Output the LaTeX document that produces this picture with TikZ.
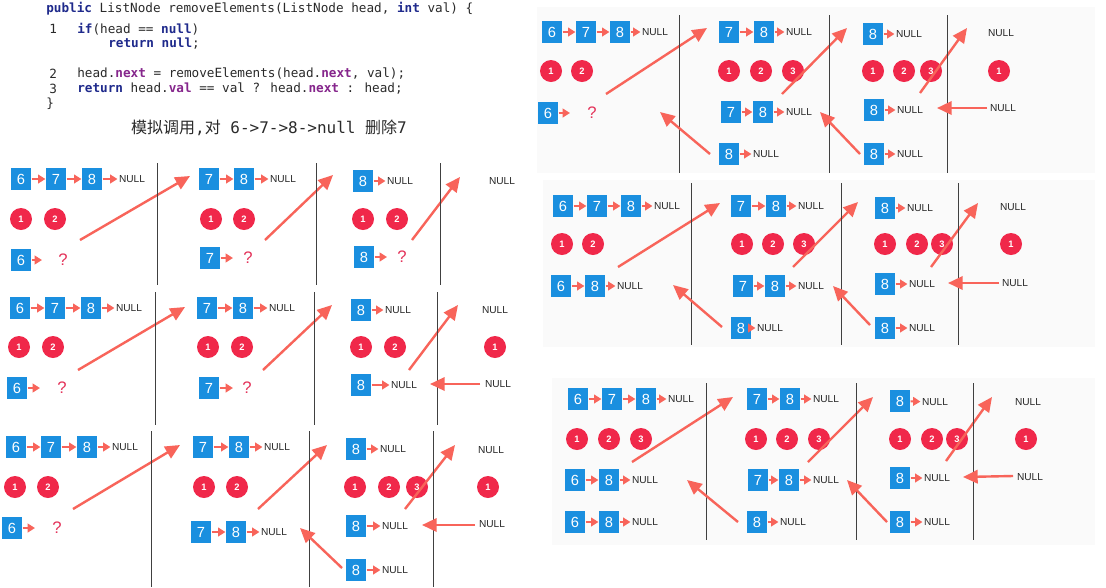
\documentclass[tikz,border=0pt]{standalone}
\usepackage{fontspec}
\setmainfont{Liberation Sans}
\newfontfamily\codefont{DejaVu Sans Mono}
\newfontfamily\cjk{Noto Sans CJK SC}
\usetikzlibrary{arrows.meta}
\definecolor{sqblue}{HTML}{1A8FDF}
\definecolor{cred}{HTML}{F0284A}
\definecolor{arr}{HTML}{F8645A}
\definecolor{qred}{HTML}{E4335A}
\definecolor{kw}{HTML}{1F2A8C}
\definecolor{fld}{HTML}{86268C}
\definecolor{ct}{HTML}{2A2A2A}
\definecolor{pbg}{HTML}{FAFAFA}
\newcommand\kwb[1]{{\bfseries\color{kw}#1}}
\newcommand\fdb[1]{{\bfseries\color{fld}#1}}
\newcommand\mySq[4]{\node[bsq] (#1) at (#2,#3) {#4};}
\newcommand\myCi[4]{\node[rc] (#1) at (#2,#3) {#4};}
\newcommand\myNu[3]{\node[nul] (#1) at (#2,#3) {NULL};}
\newcommand\myQ[3]{\node[qm] (#1) at (#2,#3) {?};}
\newcommand\myAr[2]{\draw[sarr] (#1) -- (#2);}
\newcommand\myBA[6]{\coordinate (#1) at (#2,#3); \coordinate (#4) at (#5,#6); \draw[barr] (#1) -- (#4);}
\newcommand\myDv[4]{\coordinate (#1t) at (#2,#3); \coordinate (#1b) at (#2,#4); \draw[divl] (#1t) -- (#1b);}
\tikzset{
 bsq/.style={fill=sqblue, text=white, minimum width=15.5pt, minimum height=16.5pt, inner sep=0pt, font=\fontsize{11}{12}\selectfont},
 rc/.style={circle, fill=cred, text=white, minimum size=16.5pt, inner sep=0pt, font=\fontsize{7}{8}\selectfont\bfseries},
 nul/.style={inner sep=1pt, text=black!85, font=\fontsize{7.6}{8}\selectfont},
 qm/.style={inner sep=0pt, text=qred, font=\fontsize{12.5}{13}\selectfont},
 sarr/.style={draw=arr, line width=1.6pt, -{Triangle[length=5.5pt,width=6.5pt]}},
 barr/.style={draw=arr, line width=1.8pt, -{Triangle[length=11pt,width=10pt]}},
 divl/.style={draw=black!75, line width=0.7pt},
 code/.style={anchor=west, inner sep=0pt, text=ct, font=\codefont\fontsize{9.5}{11}\selectfont},
}
\begin{document}
\begin{tikzpicture}[x=0.75pt,y=-0.75pt]
\useasboundingbox (0,0) rectangle (1106,587);
\fill[white] (0,0) rectangle (1106,587);
% right panel backgrounds
\fill[pbg] (537,7) rectangle (1095,173);
\fill[pbg] (543,180) rectangle (1095,347);
\fill[pbg] (552,378) rectangle (1095,545);

% ---------- code ----------
\node[code] (c0) at (46,9) {\kwb{public} ListNode removeElements(ListNode head, \kwb{int} val) \{};
\node[code] (n1) at (49,29) {1};
\node[code] (c1) at (77,29) {\kwb{if}(head == \kwb{null})};
\node[code] (c1b) at (108,44) {\kwb{return} \kwb{null};};
\node[code] (n2) at (49,74) {2};
\node[code] (c2) at (77,74) {head.\fdb{next} = removeElements(head.\fdb{next}, val);};
\node[code] (n3) at (49,89) {3};
\node[code] (c3) at (77,89) {\kwb{return} head.\fdb{val} == val ? head.\fdb{next} : head;};
\node[code] (c4) at (46,104) {\}};
\node[inner sep=0pt, text=ct, font=\fontsize{12}{14}\selectfont] (cap) at (269,128)
 {{\cjk 模拟调用}{\codefont ,}{\cjk 对}{\codefont\ 6->7->8->null\ }{\cjk 删除}{\codefont 7}};

% ================= Row A =================
\mySq{A1a}{21}{179}{6}\mySq{A1b}{56}{179}{7}\mySq{A1c}{92}{179}{8}\myNu{A1n}{132}{179}
\myAr{A1a}{A1b}\myAr{A1b}{A1c}\myAr{A1c}{A1n}
\myCi{A1o}{21}{219}{1}\myCi{A1p}{55}{219}{2}
\mySq{A1d}{21}{260}{6}\coordinate (A1e) at (42,260);\myQ{A1q}{63}{260}
\myAr{A1d}{A1e}
\myBA{A1f}{80}{240}{A1t}{190}{176}
\myDv{AD1}{157}{163}{285}
\mySq{A2a}{209}{179}{7}\mySq{A2b}{244}{179}{8}\myNu{A2n}{283}{179}
\myAr{A2a}{A2b}\myAr{A2b}{A2n}
\myCi{A2o}{211}{219}{1}\myCi{A2p}{244}{219}{2}
\mySq{A2d}{210}{258}{7}\coordinate (A2e) at (233,258);\myQ{A2q}{248}{258}
\myAr{A2d}{A2e}
\myBA{A2f}{265}{240}{A2t}{333}{175}
\myDv{AD2}{316}{163}{285}
\mySq{A3a}{363}{181}{8}\myNu{A3n}{400}{181}
\myAr{A3a}{A3n}
\myCi{A3o}{363}{219}{1}\myCi{A3p}{397}{219}{2}
\mySq{A3d}{364}{257}{8}\coordinate (A3e) at (387,257);\myQ{A3q}{402}{257}
\myAr{A3d}{A3e}
\myBA{A3f}{412}{240}{A3t}{460}{177}
\myDv{AD3}{440}{163}{285}
\myNu{A4n}{502}{181}

% ================= Row B =================
\mySq{B1a}{20}{308}{6}\mySq{B1b}{55}{308}{7}\mySq{B1c}{91}{308}{8}\myNu{B1n}{129}{308}
\myAr{B1a}{B1b}\myAr{B1b}{B1c}\myAr{B1c}{B1n}
\myCi{B1o}{19}{347}{1}\myCi{B1p}{53}{347}{2}
\mySq{B1d}{17}{388}{6}\coordinate (B1e) at (40,388);\myQ{B1q}{62}{388}
\myAr{B1d}{B1e}
\myBA{B1f}{78}{370}{B1t}{185}{307}
\myDv{BD1}{155}{292}{425}
\mySq{B2a}{207}{308}{7}\mySq{B2b}{243}{308}{8}\myNu{B2n}{282}{308}
\myAr{B2a}{B2b}\myAr{B2b}{B2n}
\myCi{B2o}{208}{347}{1}\myCi{B2p}{242}{347}{2}
\mySq{B2d}{209}{388}{7}\coordinate (B2e) at (233,388);\myQ{B2q}{247}{388}
\myAr{B2d}{B2e}
\myBA{B2f}{263}{370}{B2t}{332}{305}
\myDv{BD2}{314}{292}{425}
\mySq{B3a}{361}{310}{8}\myNu{B3n}{398}{310}
\myAr{B3a}{B3n}
\myCi{B3o}{361}{347}{1}\myCi{B3p}{395}{347}{2}
\mySq{B3d}{361}{385}{8}\myNu{B3m}{404}{385}
\myAr{B3d}{B3m}
\myBA{B3f}{409}{370}{B3t}{458}{305}
\myDv{BD3}{437}{292}{425}
\myNu{B4n}{495}{310}
\myCi{B4o}{495}{347}{1}
\myNu{B4m}{498}{384}
\myBA{B4f}{480}{384}{B4t}{430}{384}

% ================= Row C =================
\mySq{C1a}{16}{447}{6}\mySq{C1b}{51}{447}{7}\mySq{C1c}{87}{447}{8}\myNu{C1n}{125}{447}
\myAr{C1a}{C1b}\myAr{C1b}{C1c}\myAr{C1c}{C1n}
\myCi{C1o}{15}{487}{1}\myCi{C1p}{48}{487}{2}
\mySq{C1d}{12}{528}{6}\coordinate (C1e) at (35,528);\myQ{C1q}{57}{528}
\myAr{C1d}{C1e}
\myBA{C1f}{73}{509}{C1t}{180}{445}
\myDv{CD1}{151}{431}{587}
\mySq{C2a}{203}{447}{7}\mySq{C2b}{239}{447}{8}\myNu{C2n}{277}{447}
\myAr{C2a}{C2b}\myAr{C2b}{C2n}
\myCi{C2o}{204}{487}{1}\myCi{C2p}{237}{487}{2}
\mySq{C2d}{201}{532}{7}\mySq{C2e}{236}{532}{8}\myNu{C2m}{274}{532}
\myAr{C2d}{C2e}\myAr{C2e}{C2m}
\myBA{C2f}{258}{509}{C2t}{327}{445}
\myDv{CD2}{309}{431}{587}
\mySq{C3a}{356}{449}{8}\myNu{C3n}{393}{449}
\myAr{C3a}{C3n}
\myCi{C3o}{355}{487}{1}\myCi{C3p}{389}{487}{2}\myCi{C3r}{417}{487}{3}
\mySq{C3d}{356}{526}{8}\myNu{C3m}{395}{526}
\myAr{C3d}{C3m}
\mySq{C3g}{356}{570}{8}\myNu{C3k}{395}{570}
\myAr{C3g}{C3k}
\myBA{C3f}{405}{509}{C3t}{455}{445}
\myBA{C3u}{342}{568}{C3v}{300}{528}
\myDv{CD3}{433}{431}{587}
\myNu{C4n}{491}{450}
\myCi{C4o}{488}{487}{1}
\myNu{C4m}{492}{524}
\myBA{C4f}{475}{525}{C4t}{422}{525}

% ================= Right D =================
\mySq{D1a}{552}{32}{6}\mySq{D1b}{586}{32}{7}\mySq{D1c}{620}{32}{8}\myNu{D1n}{655}{32}
\myAr{D1a}{D1b}\myAr{D1b}{D1c}\myAr{D1c}{D1n}
\myCi{D1o}{551}{71}{1}\myCi{D1p}{582}{71}{2}
\mySq{D1d}{548}{113}{6}\coordinate (D1e) at (570,113);\myQ{D1q}{592}{113}
\myAr{D1d}{D1e}
\myBA{D1f}{606}{94}{D1t}{707}{28}
\myDv{DD1}{679}{15}{173}
\mySq{D2a}{729}{32}{7}\mySq{D2b}{764}{32}{8}\myNu{D2n}{799}{32}
\myAr{D2a}{D2b}\myAr{D2b}{D2n}
\myCi{D2o}{729}{71}{1}\myCi{D2p}{761}{71}{2}\myCi{D2r}{793}{71}{3}
\mySq{D2d}{731}{112}{7}\mySq{D2e}{763}{112}{8}\myNu{D2m}{799}{112}
\myAr{D2d}{D2e}\myAr{D2e}{D2m}
\mySq{D2g}{729}{154}{8}\myNu{D2k}{766}{154}
\myAr{D2g}{D2k}
\myBA{D2f}{782}{94}{D2t}{847}{28}
\myBA{D2u}{710}{154}{D2v}{660}{112}
\myDv{DD2}{829}{15}{173}
\mySq{D3a}{873}{34}{8}\myNu{D3n}{909}{34}
\myAr{D3a}{D3n}
\myCi{D3o}{873}{71}{1}\myCi{D3p}{904}{71}{2}\myCi{D3r}{931}{71}{3}
\mySq{D3d}{874}{110}{8}\myNu{D3m}{910}{110}
\myAr{D3d}{D3m}
\mySq{D3g}{874}{154}{8}\myNu{D3k}{910}{154}
\myAr{D3g}{D3k}
\myBA{D3f}{920}{93}{D3t}{967}{28}
\myBA{D3u}{860}{154}{D3v}{820}{112}
\myDv{DD3}{947}{15}{173}
\myNu{D4n}{1001}{33}
\myCi{D4o}{999}{71}{1}
\myNu{D4m}{1003}{108}
\myBA{D4f}{987}{108}{D4t}{937}{108}

% ================= Right E =================
\mySq{E1a}{563}{206}{6}\mySq{E1b}{597}{206}{7}\mySq{E1c}{631}{206}{8}\myNu{E1n}{667}{206}
\myAr{E1a}{E1b}\myAr{E1b}{E1c}\myAr{E1c}{E1n}
\myCi{E1o}{562}{244}{1}\myCi{E1p}{593}{244}{2}
\mySq{E1d}{561}{286}{6}\mySq{E1e}{595}{286}{8}\myNu{E1m}{630}{286}
\myAr{E1d}{E1e}\myAr{E1e}{E1m}
\myBA{E1f}{618}{267}{E1t}{720}{203}
\myDv{ED1}{691}{183}{345}
\mySq{E2a}{741}{206}{7}\mySq{E2b}{776}{206}{8}\myNu{E2n}{811}{206}
\myAr{E2a}{E2b}\myAr{E2b}{E2n}
\myCi{E2o}{742}{244}{1}\myCi{E2p}{773}{244}{2}\myCi{E2r}{804}{244}{3}
\mySq{E2d}{743}{286}{7}\mySq{E2e}{775}{286}{8}\myNu{E2m}{811}{286}
\myAr{E2d}{E2e}\myAr{E2e}{E2m}
\mySq{E2g}{741}{328}{8}\myNu{E2k}{770}{328}
\myAr{E2g}{E2k}
\myBA{E2f}{793}{267}{E2t}{858}{202}
\myBA{E2u}{722}{327}{E2v}{673}{285}
\myDv{ED2}{841}{183}{345}
\mySq{E3a}{885}{208}{8}\myNu{E3n}{920}{208}
\myAr{E3a}{E3n}
\myCi{E3o}{885}{244}{1}\myCi{E3p}{917}{244}{2}\myCi{E3r}{942}{244}{3}
\mySq{E3d}{885}{284}{8}\myNu{E3m}{922}{284}
\myAr{E3d}{E3m}
\mySq{E3g}{885}{328}{8}\myNu{E3k}{922}{328}
\myAr{E3g}{E3k}
\myBA{E3f}{931}{267}{E3t}{978}{203}
\myBA{E3u}{870}{325}{E3v}{833}{286}
\myDv{ED3}{958}{183}{345}
\myNu{E4n}{1013}{207}
\myCi{E4o}{1011}{244}{1}
\myNu{E4m}{1015}{283}
\myBA{E4f}{999}{283}{E4t}{948}{283}

% ================= Right F =================
\mySq{F1a}{578}{399}{6}\mySq{F1b}{612}{399}{7}\mySq{F1c}{646}{399}{8}\myNu{F1n}{681}{399}
\myAr{F1a}{F1b}\myAr{F1b}{F1c}\myAr{F1c}{F1n}
\myCi{F1o}{577}{439}{1}\myCi{F1p}{609}{439}{2}\myCi{F1r}{641}{439}{3}
\mySq{F1d}{575}{480}{6}\mySq{F1e}{609}{480}{8}\myNu{F1m}{645}{480}
\myAr{F1d}{F1e}\myAr{F1e}{F1m}
\mySq{F1g}{575}{522}{6}\mySq{F1h}{609}{522}{8}\myNu{F1k}{645}{522}
\myAr{F1g}{F1h}\myAr{F1h}{F1k}
\myBA{F1f}{632}{462}{F1t}{733}{397}
\myDv{FD1}{706}{383}{540}
\mySq{F2a}{757}{399}{7}\mySq{F2b}{790}{399}{8}\myNu{F2n}{826}{399}
\myAr{F2a}{F2b}\myAr{F2b}{F2n}
\myCi{F2o}{756}{439}{1}\myCi{F2p}{787}{439}{2}\myCi{F2r}{819}{439}{3}
\mySq{F2d}{758}{480}{7}\mySq{F2e}{789}{480}{8}\myNu{F2m}{826}{480}
\myAr{F2d}{F2e}\myAr{F2e}{F2m}
\mySq{F2g}{757}{522}{8}\myNu{F2k}{793}{522}
\myAr{F2g}{F2k}
\myBA{F2f}{808}{462}{F2t}{873}{397}
\myBA{F2u}{738}{522}{F2v}{687}{480}
\myDv{FD2}{856}{383}{540}
\mySq{F3a}{900}{401}{8}\myNu{F3n}{935}{402}
\myAr{F3a}{F3n}
\myCi{F3o}{900}{439}{1}\myCi{F3p}{932}{439}{2}\myCi{F3r}{957}{439}{3}
\mySq{F3d}{900}{478}{8}\myNu{F3m}{937}{478}
\myAr{F3d}{F3m}
\mySq{F3g}{900}{522}{8}\myNu{F3k}{937}{522}
\myAr{F3g}{F3k}
\myBA{F3f}{946}{461}{F3t}{992}{397}
\myBA{F3u}{887}{522}{F3v}{847}{480}
\myDv{FD3}{973}{383}{540}
\myNu{F4n}{1028}{402}
\myCi{F4o}{1026}{439}{1}
\myNu{F4m}{1030}{477}
\myBA{F4f}{1013}{476}{F4t}{963}{477}
\end{tikzpicture}
\end{document}
